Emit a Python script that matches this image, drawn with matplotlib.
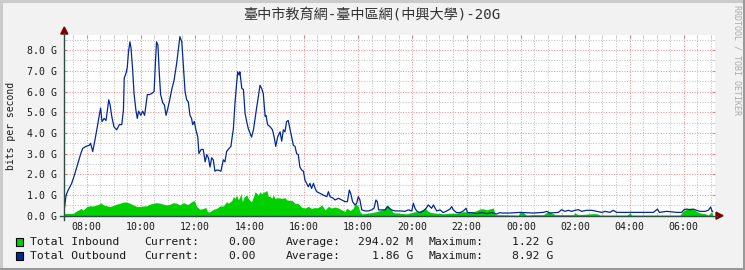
import matplotlib
matplotlib.use('Agg')
import matplotlib.pyplot as plt
from matplotlib.patches import Rectangle, Polygon
from matplotlib.lines import Line2D
from matplotlib.ticker import MultipleLocator, FixedLocator

# ---------------- data ----------------
title = "臺中市教育網-臺中區網(中興大學)-20G"
y_label = "bits per second"
watermark = "RRDTOOL / TOBI OETIKER"

# hours counted from 00:00 of the first day (values > 24 are the next day)
out_hours = [7.19, 7.25, 7.33, 7.45, 7.54, 7.61, 7.70, 7.79, 7.86, 7.98, 8.10, 8.15, 8.23, 8.31,
             8.40, 8.47, 8.52, 8.57, 8.65, 8.72, 8.77, 8.82, 8.87, 8.93, 9.01, 9.11, 9.21, 9.30,
             9.36, 9.39, 9.46, 9.50, 9.55, 9.60, 9.64, 9.70, 9.75, 9.82, 9.87, 9.92, 10.00, 10.07,
             10.14, 10.19, 10.24, 10.31, 10.40, 10.49, 10.54, 10.58, 10.63, 10.68, 10.73, 10.81,
             10.87, 10.93, 10.98, 11.05, 11.14, 11.22, 11.32, 11.40, 11.44, 11.51, 11.57, 11.63,
             11.69, 11.75, 11.81, 11.87, 11.91, 11.97, 12.03, 12.10, 12.14, 12.22, 12.30, 12.37,
             12.43, 12.49, 12.55, 12.61, 12.67, 12.73, 12.79, 12.86, 12.95, 13.04, 13.10, 13.16,
             13.25, 13.32, 13.36, 13.41, 13.47, 13.53, 13.57, 13.62, 13.65, 13.72, 13.78, 13.84,
             13.90, 13.96, 14.02, 14.08, 14.15, 14.21, 14.27, 14.33, 14.39, 14.45, 14.51, 14.58,
             14.61, 14.67, 14.76, 14.85, 14.92, 14.97, 15.04, 15.13, 15.19, 15.25, 15.31, 15.37,
             15.43, 15.50, 15.56, 15.62, 15.68, 15.74, 15.80, 15.86, 15.93, 15.99, 16.05, 16.11,
             16.17, 16.23, 16.29, 16.36, 16.42, 16.48, 16.60, 16.72, 16.85, 16.91, 16.97, 17.09,
             17.15, 17.28, 17.40, 17.52, 17.61, 17.68, 17.73, 17.80, 17.89, 17.95, 18.01, 18.07,
             18.14, 18.26, 18.38, 18.50, 18.59, 18.66, 18.71, 18.76, 18.87, 19.00, 19.08, 19.15,
             19.24, 19.36, 19.55, 19.73, 19.85, 19.98, 20.04, 20.10, 20.16, 20.28, 20.41, 20.51,
             20.59, 20.65, 20.71, 20.78, 20.84, 20.90, 21.02, 21.14, 21.27, 21.39, 21.45, 21.51,
             21.63, 21.76, 21.88, 21.98, 22.03, 22.19, 22.37, 22.56, 22.74, 22.92, 23.11, 23.23,
             23.29, 23.60, 23.97, 24.46, 24.83, 24.95, 25.07, 25.38, 25.50, 25.62, 25.75, 25.87,
             25.99, 26.12, 26.24, 26.42, 26.61, 26.79, 26.98, 27.10, 27.28, 27.40, 27.53, 27.90,
             28.39, 28.88, 29.03, 29.10, 29.37, 29.74, 29.92, 30.01, 30.11, 30.23, 30.35, 30.47,
             30.60, 30.78, 30.90, 30.99, 31.04, 31.06]
out_gbps = [0.40, 1.00, 1.25, 1.55, 1.90, 2.20, 2.60, 3.00, 3.25, 3.35, 3.40, 3.50, 3.10, 3.65,
            4.30, 4.85, 5.20, 4.55, 4.70, 4.60, 5.10, 5.60, 5.35, 4.80, 4.30, 4.15, 4.40, 4.40,
            5.10, 6.65, 6.90, 7.15, 7.95, 8.40, 8.10, 7.05, 5.90, 5.10, 4.70, 5.05, 4.85, 5.05,
            4.85, 5.35, 5.85, 5.85, 5.90, 6.00, 7.45, 8.40, 8.25, 6.90, 5.85, 5.45,
            5.35, 4.85, 5.10, 5.50, 6.10, 6.50, 7.35, 8.20, 8.65, 8.40, 7.20, 6.00,
            5.60, 5.50, 4.85, 4.70, 4.40, 4.55, 4.15, 3.80, 3.00, 3.20, 3.20, 2.60,
            2.95, 2.80, 2.35, 2.80, 2.70, 2.15, 2.20, 2.20, 2.15, 2.70, 2.60, 3.10,
            3.25, 3.35, 3.75, 4.20, 5.45, 6.40, 6.95, 6.80, 6.95, 6.15, 6.10, 4.95,
            4.55, 4.20, 4.00, 3.80, 4.15, 4.70, 5.25, 5.75, 6.30, 6.15, 5.90, 4.80,
            4.85, 4.40, 4.30, 4.15, 3.75, 3.35, 3.80, 4.05, 3.60, 4.15, 4.05, 4.55,
            4.60, 4.15, 3.75, 3.40, 3.35, 3.00, 2.95, 2.35, 2.20, 2.15, 1.70, 1.56,
            1.40, 1.56, 1.32, 1.56, 1.32, 1.16, 1.08, 1.00, 0.92, 1.16, 0.92, 0.84,
            0.76, 0.84, 0.76, 0.68, 0.68, 1.24, 1.08, 0.68, 0.52, 0.60, 0.92, 0.76,
            0.28, 0.23, 0.23, 0.28, 0.36, 0.76, 0.68, 0.28, 0.28, 0.28, 0.44, 0.36,
            0.28, 0.23, 0.23, 0.21, 0.28, 0.23, 0.60, 0.36, 0.23, 0.15, 0.23, 0.36,
            0.52, 0.44, 0.36, 0.52, 0.36, 0.23, 0.28, 0.15, 0.23, 0.32, 0.44, 0.28,
            0.15, 0.15, 0.23, 0.36, 0.15, 0.15, 0.10, 0.15, 0.10, 0.15, 0.08, 0.15,
            0.13, 0.13, 0.16, 0.13, 0.16, 0.21, 0.13, 0.16, 0.29, 0.21, 0.26, 0.21,
            0.26, 0.29, 0.21, 0.26, 0.26, 0.21, 0.16, 0.21, 0.16, 0.26, 0.16, 0.16,
            0.16, 0.16, 0.32, 0.16, 0.21, 0.16, 0.16, 0.29, 0.32, 0.29, 0.32, 0.26,
            0.21, 0.21, 0.26, 0.42, 0.21, 0.21]

in_hours = [7.19, 7.52, 7.58, 7.70, 7.79, 7.88, 8.01, 8.13, 8.25, 8.38, 8.47, 8.52, 8.62, 8.74,
            8.87, 8.99, 9.11, 9.23, 9.36, 9.48, 9.60, 9.73, 9.85, 9.97, 10.09, 10.22, 10.34,
            10.46, 10.58, 10.71, 10.83, 10.95, 11.08, 11.20, 11.32, 11.44, 11.57, 11.69, 11.75,
            11.87, 11.97, 12.06, 12.18, 12.30, 12.39, 12.46, 12.55, 12.67, 12.79, 12.92, 13.04,
            13.16, 13.22, 13.35, 13.41, 13.47, 13.53, 13.59, 13.65, 13.69, 13.74, 13.81, 13.90,
            13.96, 14.02, 14.08, 14.15, 14.21, 14.27, 14.33, 14.39, 14.45, 14.51, 14.58, 14.64,
            14.70, 14.76, 14.82, 14.88, 14.94, 15.07, 15.19, 15.31, 15.37, 15.50, 15.56, 15.68,
            15.80, 15.93, 16.05, 16.17, 16.29, 16.42, 16.48, 16.60, 16.66, 16.79, 16.91, 17.03,
            17.15, 17.28, 17.40, 17.52, 17.58, 17.71, 17.83, 17.89, 17.95, 18.01, 18.07, 18.14,
            18.32, 18.50, 18.69, 18.87, 19.00, 19.08, 19.18, 19.30, 19.55, 19.79, 19.98, 20.10,
            20.22, 20.35, 20.47, 20.59, 20.71, 20.90, 21.14, 21.39, 21.63, 21.88, 22.13, 22.37,
            22.49, 22.62, 22.74, 22.86, 22.98, 23.05, 23.23, 23.91, 23.97, 24.09, 24.19, 24.46,
            24.83, 24.95, 25.05, 25.13, 25.26, 25.44, 25.93, 25.99, 26.12, 26.67, 26.79, 26.91,
            27.90, 28.02, 28.08, 29.86, 29.96, 30.11, 30.23, 30.35, 30.47, 30.60, 30.78, 30.90,
            31.03, 31.06]
in_gbps = [0.11, 0.11, 0.19, 0.27, 0.35, 0.27, 0.44, 0.48, 0.47, 0.52, 0.56, 0.63, 0.52, 0.48,
           0.44, 0.50, 0.56, 0.60, 0.66, 0.66, 0.60, 0.52, 0.44, 0.44, 0.47, 0.48, 0.56,
           0.60, 0.63, 0.60, 0.56, 0.52, 0.56, 0.63, 0.60, 0.52, 0.63, 0.56, 0.55,
           0.68, 0.73, 0.44, 0.31, 0.35, 0.40, 0.19, 0.19, 0.31, 0.35, 0.47, 0.47,
           0.68, 0.60, 0.73, 0.92, 0.84, 1.00, 0.77, 0.92, 1.08, 0.68, 0.92, 1.00,
           0.84, 0.73, 0.68, 0.92, 1.16, 1.08, 1.00, 1.16, 1.05, 1.13, 1.16, 1.22,
           0.92, 0.95, 0.84, 1.00, 0.84, 0.87, 0.84, 0.87, 0.77, 0.73, 0.75, 0.60,
           0.58, 0.40, 0.37, 0.45, 0.35, 0.40, 0.37, 0.45, 0.53, 0.28, 0.45, 0.37,
           0.42, 0.37, 0.28, 0.20, 0.37, 0.25, 0.37, 0.61, 0.53, 0.45, 0.20, 0.09,
           0.12, 0.15, 0.20, 0.28, 0.37, 0.53, 0.37, 0.15, 0.12, 0.09, 0.15, 0.20,
           0.20, 0.28, 0.37, 0.20, 0.15, 0.12, 0.09, 0.12, 0.12, 0.20, 0.15, 0.25,
           0.33, 0.33, 0.28, 0.33, 0.37, 0.05, 0.05, 0.03, 0.21, 0.16, 0.03, 0.05,
           0.05, 0.16, 0.21, 0.13, 0.05, 0.05, 0.05, 0.13, 0.05, 0.10, 0.10, 0.03,
           0.03, 0.13, 0.03, 0.03, 0.21, 0.32, 0.37, 0.32, 0.21, 0.13, 0.10, 0.03,
           0.21, 0.05]

legend_names = ["Total Inbound", "Total Outbound"]
legend_current = ["0.00", "0.00"]
legend_average = ["294.02 M", "1.86 G"]
legend_maximum = ["1.22 G", "8.92 G"]
legend_colors = ["#00CF00", "#002A97"]

x_major = list(range(8, 31, 2))
x_labels = ["%02d:00" % (h % 24) for h in x_major]
y_major = list(range(0, 9))
y_labels = ["%.1f G" % v for v in y_major]

# ---------------- layout ----------------
W, H = 745, 270
MONO = 'DejaVu Sans Mono'
fig = plt.figure(figsize=(W / 100, H / 100), dpi=100, facecolor='#F2F2F2')


def P(x, y):
    return (x / W, 1 - y / H)


# outer shaded border
for (x0, y0, x1, y1, c) in [(0, 1, W, 1, '#CBCBCB'), (1, 0, 1, H, '#CBCBCB'),
                            (0, H - 1.5, W, H - 1.5, '#999999'), (W - 1.5, 0, W - 1.5, H, '#999999')]:
    fig.add_artist(Line2D([x0 / W, x1 / W], [1 - y0 / H, 1 - y1 / H], color=c, lw=2.2,
                          transform=fig.transFigure))

left_px, right_px, top_px, bot_px = 64.3, 715.0, 35.0, 215.7
ax = fig.add_axes([left_px / W, 1 - bot_px / H, (right_px - left_px) / W, (bot_px - top_px) / H])
ax.set_facecolor('white')
x_start = 8 + (left_px - 86.5) / 27.15
x_end = 8 + (right_px - 86.5) / 27.15
ax.set_xlim(x_start, x_end)
ax.set_ylim(0, (bot_px - top_px) / 20.7)

ax.fill_between(in_hours, in_gbps, 0, color='#00CF00', lw=0, zorder=2)
ax.plot(out_hours, out_gbps, color='#002A97', lw=0.9, zorder=3)

ax.xaxis.set_major_locator(FixedLocator(x_major))
ax.xaxis.set_minor_locator(MultipleLocator(0.5))
ax.yaxis.set_major_locator(FixedLocator(y_major))
ax.yaxis.set_minor_locator(MultipleLocator(0.5))
ax.set_xticklabels(x_labels)
ax.set_yticklabels(y_labels)
ax.set_axisbelow(True)
ax.grid(which='minor', color='#C4C4C4', linestyle=(0, (1, 1.5)), lw=0.75)
ax.grid(which='major', color='#F09494', linestyle=(0, (1, 1.5)), lw=0.75)
for s in ax.spines.values():
    s.set_visible(False)
ax.tick_params(which='both', direction='in', length=2, top=True, right=True)
ax.tick_params(which='major', color='#F08080')
ax.tick_params(which='minor', color='#C8C8C8')
ax.tick_params(axis='y', which='major', pad=5)
ax.tick_params(axis='x', which='major', pad=4.5)
for lab in ax.get_xticklabels() + ax.get_yticklabels():
    lab.set_fontfamily(MONO)
    lab.set_fontsize(7.1)
    lab.set_color('#1a1a1a')

# axes lines with arrows
axis_col = '#2C4D43'
arrow_col = '#7F0000'
fig.add_artist(Line2D([P(60, 0)[0], P(717, 0)[0]], [P(0, bot_px)[1]] * 2, color=axis_col, lw=1.0,
                      transform=fig.transFigure))
fig.add_artist(Line2D([P(left_px, 0)[0]] * 2, [P(0, 220)[1], P(0, 33)[1]], color=axis_col, lw=1.0,
                      transform=fig.transFigure))
fig.add_artist(Polygon([P(716, bot_px - 3.5), P(716, bot_px + 3.5), P(723, bot_px)], closed=True,
                       color=arrow_col, transform=fig.transFigure))
fig.add_artist(Polygon([P(left_px - 3.5, 34), P(left_px + 3.5, 34), P(left_px, 27)], closed=True,
                       color=arrow_col, transform=fig.transFigure))

# texts
fig.text(*P(372, 15), title, ha='center', va='center', fontsize=10.2,
         family=[MONO, 'Noto Sans CJK TC'], color='#333333')
fig.text(*P(10.8, 125.8), y_label, rotation=90, ha='center', va='center', fontsize=7.0,
         family=MONO, color='#1a1a1a')
fig.text(*P(736.5, 60), watermark, rotation=270, ha='center', va='center', fontsize=6.0,
         family=MONO, color='#ABABAB')

# legend
row_y = [242.0, 255.8]
for i in range(2):
    y = row_y[i]
    fig.add_artist(Rectangle(P(15.5, y + 3.7), 7 / W, 7.4 / H, facecolor=legend_colors[i],
                             edgecolor='black', lw=0.8, transform=fig.transFigure))
    kw = dict(va='center', fontsize=8.2, family=MONO, color='#1a1a1a')
    fig.text(*P(30.5, y), legend_names[i], ha='left', **kw)
    fig.text(*P(144.3, y), "Current:", ha='left', **kw)
    fig.text(*P(255.8, y), legend_current[i], ha='right', **kw)
    fig.text(*P(286.0, y), "Average:", ha='left', **kw)
    fig.text(*P(413.0, y), legend_average[i], ha='right', **kw)
    fig.text(*P(428.3, y), "Maximum:", ha='left', **kw)
    fig.text(*P(553.0, y), legend_maximum[i], ha='right', **kw)

fig.savefig('out.png', dpi=100, facecolor=fig.get_facecolor())
